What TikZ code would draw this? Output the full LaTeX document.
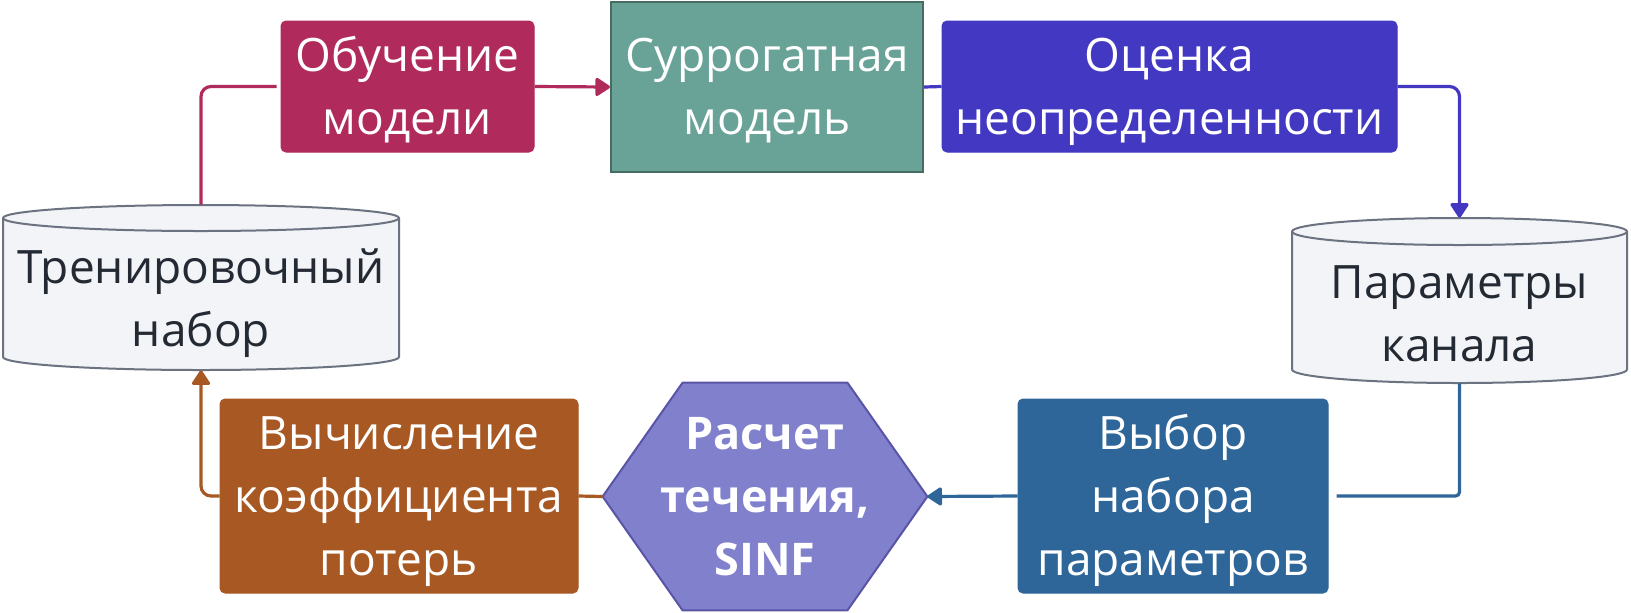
\documentclass[tikz,border=0pt]{standalone}
\usepackage{fontspec}
\setmainfont{Open Sans}
\usetikzlibrary{arrows.meta,backgrounds}
\definecolor{crim}{HTML}{B02B5B}
\definecolor{tealf}{HTML}{69A398}
\definecolor{teald}{HTML}{466C64}
\definecolor{indig}{HTML}{4238C2}
\definecolor{hexf}{HTML}{8080CC}
\definecolor{hexd}{HTML}{5A54A6}
\definecolor{brownc}{HTML}{A85823}
\definecolor{bluec}{HTML}{2F6699}
\definecolor{cylf}{HTML}{F3F4F7}
\definecolor{cyld}{HTML}{6B7280}
\definecolor{cylt}{HTML}{232A33}
\newcommand\ls{\rule[-7.6pt]{0pt}{31.5pt}}
\begin{document}
\begin{tikzpicture}[x=0.5pt,y=-0.5pt,
  txt/.style={inner sep=0pt, align=center, font=\fontsize{23}{31.5}\selectfont},
  box/.style={txt, rectangle, rounded corners=2.5pt, text=white, line width=0.5pt},
  cylshape/.style={rectangle, inner sep=0pt, minimum width=#1},
  conn/.style={line width=1.6pt},
  tip/.style={-{Triangle[length=8pt,width=10pt,round]}},
]
\useasboundingbox (0,0) rectangle (1631,612);

% boxes
\node[box, fill=crim, draw=crim, minimum width=126.5pt, minimum height=65.5pt] (learn) at (407.5,86.5) {\ls Обучение\\\ls модели};
\node[box, fill=tealf, draw=teald, line width=1pt, rounded corners=0pt, minimum width=156pt, minimum height=85pt] (surr) at (767,87) {\ls Суррогатная\\\ls модель};
\node[box, fill=indig, draw=indig, minimum width=227.5pt, minimum height=65.5pt] (unc) at (1169.5,86.5) {\ls Оценка\\\ls неопределенности};
\node[box, fill=brownc, draw=brownc, minimum width=179pt, minimum height=97pt] (calc) at (399,496) {\ls Вычисление\\\ls коэффициента\\\ls потерь};
\node[box, fill=bluec, draw=bluec, minimum width=155pt, minimum height=97pt] (select) at (1173,496) {\ls Выбор\\\ls набора\\\ls параметров};

% hexagon
\node[txt, text=white, font=\fontsize{22.5}{31.5}\selectfont\bfseries, minimum width=162pt, minimum height=113.5pt] (hex) at (765,496.5) {\ls Расчет\\\ls течения,\\\ls SINF};
\begin{scope}[on background layer]
\draw[fill=hexf, draw=hexd, line width=1pt, line join=round]
  (hex.west) -- ([xshift=40pt]hex.north west) -- ([xshift=-40pt]hex.north east)
  -- (hex.east) -- ([xshift=-40pt]hex.south east) -- ([xshift=40pt]hex.south west) -- cycle;
\end{scope}

% cylinders
\node[cylshape=198pt, minimum height=82.5pt] (train) at (201,287.5) {};
\node[txt, text=cylt] (trainlbl) at (201,298.7) {\ls Тренировочный\\\ls набор};
\node[cylshape=167.5pt, minimum height=82.5pt] (param) at (1459.5,300.5) {};
\node[txt, text=cylt] (paramlbl) at (1459.5,313.7) {\ls Параметры\\\ls канала};
\begin{scope}[on background layer]
\draw[fill=cylf, draw=cyld, line width=1pt]
  (3,218) -- (3,357) arc[start angle=180,end angle=0,x radius=198,y radius=13]
  -- (399,218) arc[start angle=0,end angle=-180,x radius=198,y radius=13] -- cycle;
\draw[cyld, line width=1pt] (3,218) arc[start angle=180,end angle=0,x radius=198,y radius=13];
\draw[fill=cylf, draw=cyld, line width=1pt]
  (1292,231.5) -- (1292,369.5) arc[start angle=180,end angle=0,x radius=167.5,y radius=13.5]
  -- (1627,231.5) arc[start angle=0,end angle=-180,x radius=167.5,y radius=13.5] -- cycle;
\draw[cyld, line width=1pt] (1292,231.5) arc[start angle=180,end angle=0,x radius=167.5,y radius=13.5];
\end{scope}

% connectors
\draw[conn, crim, rounded corners=5pt, shorten >=2pt] (train.north) |- (learn.west);
\draw[conn, crim, tip] (learn.east) -- (surr.west);
\draw[conn, indig] (surr.east) -- (unc.west);
\draw[conn, indig, rounded corners=5pt, tip] (unc.east) -| (param.north);
\draw[conn, bluec, rounded corners=2pt, shorten >=4pt] (param.south) |- (select.east);
\draw[conn, bluec, tip] (select.west) -- (hex.east);
\draw[conn, brownc] (hex.west) -- (calc.east);
\draw[conn, brownc, rounded corners=5pt, tip] (calc.west) -| (train.south);
\end{tikzpicture}
\end{document}
